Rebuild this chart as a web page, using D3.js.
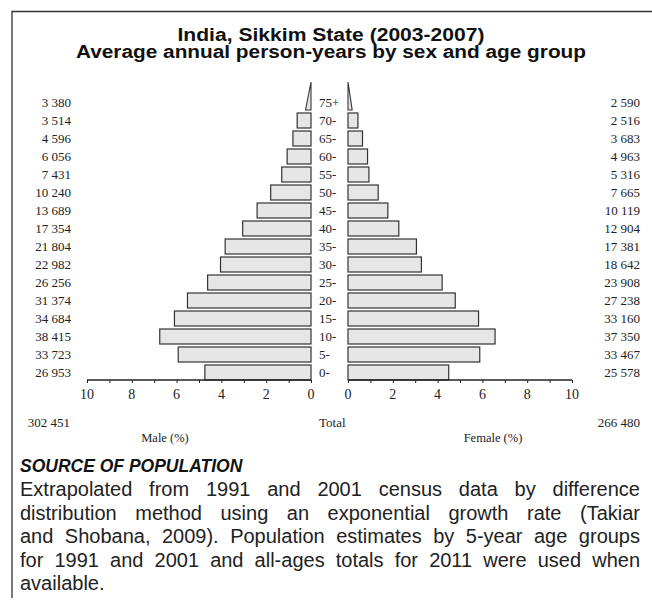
<!DOCTYPE html>
<html><head><meta charset="utf-8">
<script src="https://cdn.jsdelivr.net/npm/d3@7"></script>
<style>body{margin:0;background:#fff}svg{display:block}</style>
</head><body>
<script>
const ageGroups = ["0-","5-","10-","15-","20-","25-","30-","35-","40-","45-","50-","55-","60-","65-","70-","75+"];
const maleCounts = [26953,33723,38415,34684,31374,26256,22982,21804,17354,13689,10240,7431,6056,4596,3514,3380];
const femaleCounts = [25578,33467,37350,33160,27238,23908,18642,17381,12904,10119,7665,5316,4963,3683,2516,2590];
const maleTotal = 302451;
const femaleTotal = 266480;
const tickValues = [0,2,4,6,8,10];
const minorTicks = [0,1,2,3,4,5,6,7,8,9,10];
const titleLines = ["India, Sikkim State (2003-2007)","Average annual person-years by sex and age group"];
const sourceTitle = "SOURCE OF POPULATION";
const sourceLines = [
 "Extrapolated from 1991 and 2001 census data by difference",
 "distribution method using an exponential growth rate (Takiar",
 "and Shobana, 2009). Population estimates by 5-year age groups",
 "for 1991 and 2001 and all-ages totals for 2011 were used when",
 "available."
];

const W=652,H=601;
const svg=d3.select("body").append("svg").attr("width",W).attr("height",H);
const fmt = n => String(n).replace(/\B(?=(\d{3})+(?!\d))/g," ");
const grand = maleTotal+femaleTotal;
const pct = v => v/grand*100;

// frame
svg.append("path").attr("d","M12,598V11.5H652").attr("fill","none").attr("stroke","#333").attr("stroke-width",1.3);

// title (horizontally widened face)
const titleWidths=[307,510];
svg.selectAll("text.title").data(titleLines).join("text").attr("class","title")
  .attr("x",331).attr("y",(d,i)=>41+i*17)
  .attr("text-anchor","middle").attr("font-family","Liberation Sans, Arial, sans-serif")
  .attr("font-weight","bold").attr("font-size",18).attr("fill","#111")
  .attr("textLength",(d,i)=>titleWidths[i]).attr("lengthAdjust","spacingAndGlyphs").text(d=>d);

const xM = d3.scaleLinear().domain([0,10]).range([311,87]);
const xF = d3.scaleLinear().domain([0,10]).range([348,572]);
const y = d3.scaleBand().domain(ageGroups.slice().reverse()).range([95,380]).paddingInner(3/18).paddingOuter(0);

const serif="Liberation Serif, Times New Roman, serif";
const rows = ageGroups.map((a,i)=>({age:a,m:maleCounts[i],f:femaleCounts[i]}));
const barFill="#e6e6e6", barStroke="#333";
const open = rows.filter(r=>r.age.endsWith("+"));
const closed = rows.filter(r=>!r.age.endsWith("+"));

svg.append("g").selectAll("rect").data(closed).join("rect")
  .attr("x",d=>xM(pct(d.m))).attr("y",d=>y(d.age))
  .attr("width",d=>xM(0)-xM(pct(d.m))).attr("height",y.bandwidth())
  .attr("fill",barFill).attr("stroke",barStroke).attr("stroke-width",1.2);
svg.append("g").selectAll("rect").data(closed).join("rect")
  .attr("x",xF(0)).attr("y",d=>y(d.age))
  .attr("width",d=>xF(pct(d.f))-xF(0)).attr("height",y.bandwidth())
  .attr("fill",barFill).attr("stroke",barStroke).attr("stroke-width",1.2);

// open-ended group as triangle
const triK=0.41, apexOff=13;
open.forEach(d=>{
  const yb=y(d.age)+y.bandwidth(), ya=y(d.age)-apexOff;
  const wm=(xM(0)-xM(pct(d.m)))*triK, wf=(xF(pct(d.f))-xF(0))*triK;
  svg.append("path").attr("d",`M${xM(0)},${ya}L${xM(0)-wm},${yb}H${xM(0)}Z`)
    .attr("fill",barFill).attr("stroke",barStroke).attr("stroke-width",1.1);
  svg.append("path").attr("d",`M${xF(0)},${ya}L${xF(0)+wf},${yb}H${xF(0)}Z`)
    .attr("fill",barFill).attr("stroke",barStroke).attr("stroke-width",1.1);
});

const lblY = d=>y(d.age)+y.bandwidth()/2+4.5;
svg.append("g").selectAll("text").data(rows).join("text")
  .attr("x",71).attr("y",lblY).attr("text-anchor","end")
  .attr("font-family",serif).attr("font-size",13).attr("fill","#222").text(d=>fmt(d.m));
svg.append("g").selectAll("text").data(rows).join("text")
  .attr("x",319).attr("y",lblY)
  .attr("font-family",serif).attr("font-size",13).attr("fill","#222").text(d=>d.age);
svg.append("g").selectAll("text").data(rows).join("text")
  .attr("x",640).attr("y",lblY).attr("text-anchor","end")
  .attr("font-family",serif).attr("font-size",13).attr("fill","#222").text(d=>fmt(d.f));

// axes
function drawAxis(scale){
  const g=svg.append("g").attr("transform","translate(0,380)");
  g.call(d3.axisBottom(scale).tickValues(minorTicks).tickSize(3).tickFormat(""));
  g.select(".domain").attr("stroke","#222").attr("stroke-width",1.3).attr("d",`M${scale.range()[0]},0H${scale.range()[1]}`);
  g.selectAll(".tick line").attr("stroke","#222").attr("stroke-width",1);
  g.append("g").selectAll("text").data(tickValues).join("text")
    .attr("x",d=>scale(d)).attr("y",19).attr("text-anchor","middle")
    .attr("font-family",serif).attr("font-size",14).attr("fill","#222").text(d=>d);
}
drawAxis(xM); drawAxis(xF);

svg.append("text").attr("x",70).attr("y",427).attr("text-anchor","end")
  .attr("font-family",serif).attr("font-size",13).attr("fill","#222").text(fmt(maleTotal));
svg.append("text").attr("x",319).attr("y",427)
  .attr("font-family",serif).attr("font-size",13).attr("fill","#222").text("Total");
svg.append("text").attr("x",640).attr("y",427).attr("text-anchor","end")
  .attr("font-family",serif).attr("font-size",13).attr("fill","#222").text(fmt(femaleTotal));
svg.append("text").attr("x",165).attr("y",442).attr("text-anchor","middle")
  .attr("font-family",serif).attr("font-size",12.5).attr("fill","#222").text("Male (%)");
svg.append("text").attr("x",493).attr("y",442).attr("text-anchor","middle")
  .attr("font-family",serif).attr("font-size",12.5).attr("fill","#222").text("Female (%)");

// source
const sans="Liberation Sans, Arial, sans-serif";
svg.append("text").attr("x",20).attr("y",472).attr("font-family",sans).attr("font-size",17.5)
  .attr("font-weight","bold").attr("font-style","italic").attr("fill","#111").text(sourceTitle);
const left=20,right=640;
sourceLines.forEach((line,i)=>{
  const words=line.split(" ");
  const yy=496+i*23.6;
  const g=svg.append("g");
  const ts=words.map(w=>g.append("text").attr("y",yy).attr("font-family",sans).attr("font-size",20).attr("fill","#222").text(w));
  const widths=ts.map(t=>t.node().getComputedTextLength());
  const total=d3.sum(widths);
  const last = i===sourceLines.length-1;
  const gap = last||words.length<2 ? 5.5 : Math.max(2,(right-left-total)/(words.length-1));
  let x=left;
  ts.forEach((t,j)=>{t.attr("x",x); x+=widths[j]+gap;});
});
</script>
</body></html>
